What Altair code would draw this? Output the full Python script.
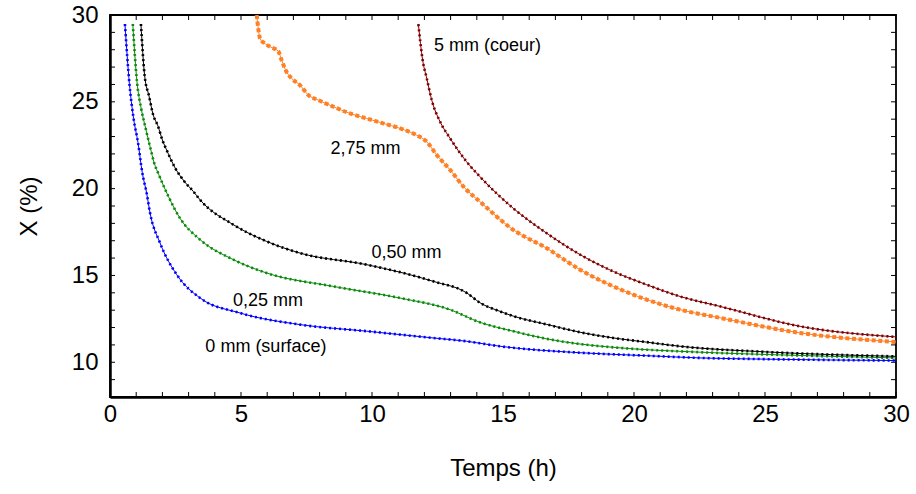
import altair as alt
import pandas as pd

# ---- data (t in hours, X in %) ----
t_0 = [0.57, 0.74, 0.90, 1.07, 1.23, 1.40, 1.53, 1.91, 2.55, 3.44, 4.96, 7.25, 9.80,
       12.34, 13.61, 14.89, 17.94, 20.48, 22.52, 25.0, 30.0]
x_0 = [29.48, 26.06, 24.04, 22.64, 20.94, 19.73, 18.59, 16.87, 15.04, 13.70, 12.84, 12.17, 11.79,
       11.40, 11.21, 10.92, 10.55, 10.38, 10.25, 10.18, 10.10]

t_025 = [0.87, 1.03, 1.19, 1.36, 1.53, 1.69, 1.87, 2.23, 2.67, 3.44, 4.71, 5.98, 8.52, 11.07,
         12.98, 14.12, 15.39, 16.67, 17.94, 19.21, 22.52, 25.0, 30.0]
x_025 = [29.48, 26.15, 24.62, 23.47, 22.41, 21.46, 20.78, 19.55, 18.30, 17.06, 15.91, 15.14, 14.37, 13.70,
         13.03, 12.30, 11.79, 11.35, 11.05, 10.86, 10.58, 10.45, 10.25]

t_050 = [1.18, 1.32, 1.49, 1.65, 1.83, 2.00, 2.16, 2.49, 2.84, 3.18, 3.44, 4.71, 5.98, 7.25, 9.80,
         12.34, 13.61, 14.12, 14.89, 15.39, 16.67, 17.94, 19.21, 20.48, 21.76, 25.0, 30.0]
x_050 = [29.48, 26.53, 25.33, 24.24, 23.61, 22.80, 22.23, 21.18, 20.41, 19.84, 19.35, 17.92, 16.96, 16.29, 15.62,
         14.66, 14.00, 13.43, 12.93, 12.66, 12.18, 11.73, 11.40, 11.16, 10.92, 10.60, 10.34]

t_275 = [5.60, 5.73, 5.92, 6.11, 6.42, 6.55, 6.74, 6.93, 7.25, 7.57, 7.95, 8.52, 9.16, 9.80, 10.43,
         11.07, 11.70, 12.09, 12.47, 12.98, 13.55, 14.12, 15.39, 16.67, 17.94, 19.21, 20.48, 21.76,
         23.28, 26.34, 30.0]
x_275 = [30.00, 28.64, 28.35, 28.17, 27.92, 27.40, 26.72, 26.35, 25.96, 25.39, 25.10, 24.72, 24.33, 24.04, 23.76,
         23.47, 23.08, 22.70, 21.94, 21.08, 20.02, 19.25, 17.63, 16.57, 15.33, 14.37, 13.61, 13.03,
         12.56, 11.69, 11.17]

t_5 = [11.77, 11.93, 12.09, 12.28, 12.60, 12.98, 13.61, 14.12, 15.39, 16.67, 17.94, 19.21, 20.48,
       21.76, 23.28, 26.34, 30.0]
x_5 = [29.47, 27.43, 26.35, 25.10, 23.85, 22.90, 21.55, 20.69, 18.87, 17.43, 16.20, 15.23, 14.47,
       13.79, 13.22, 12.07, 11.46]

series_t = [t_0, t_025, t_050, t_275, t_5]
series_x = [x_0, x_025, x_050, x_275, x_5]
series_colors = ["#0000ff", "#0a8a0a", "#000000", "#ff7f24", "#800000"]

label_text = ["0 mm (surface)", "0,25 mm", "0,50 mm", "2,75 mm", "5 mm (coeur)"]
label_t = [5.95, 6.03, 11.32, 9.75, 14.41]
label_x = [10.89, 13.53, 16.29, 22.28, 28.21]

x_ticks = list(range(0, 31))
y_ticks = list(range(8, 31))

FONT = "Liberation Sans"
W, H = 786, 382
TICK = 5

x_axis = alt.Axis(
    values=x_ticks, labelExpr="datum.value % 5 === 0 ? datum.label : ''",
    ticks=False, tickSize=0, grid=False, domain=True, domainColor="black", domainWidth=2.5,
    labelFont=FONT, labelFontSize=24, labelColor="black", labelPadding=5,
    labelOverlap=False, labelFlush=False,
    title="Temps (h)", titleFont=FONT, titleFontSize=24, titleFontWeight="normal",
    titleColor="black", titlePadding=30,
)
y_axis = alt.Axis(
    values=y_ticks, labelExpr="datum.value % 5 === 0 ? datum.label : ''",
    ticks=False, tickSize=0, grid=False, domain=True, domainColor="black", domainWidth=2.5,
    labelFont=FONT, labelFontSize=24, labelColor="black", labelPadding=12,
    labelOverlap=False, labelFlush=False,
    title="X (%)", titleFont=FONT, titleFontSize=24, titleFontWeight="normal",
    titleColor="black", titlePadding=30,
)

xs = alt.Scale(domain=[0, 30], nice=False, zero=False)
ys = alt.Scale(domain=[8, 30], nice=False, zero=False)
X = alt.X("t:Q", scale=xs, axis=x_axis)
Y = alt.Y("v:Q", scale=ys, axis=y_axis)

layers = []

# inward tick marks on all four sides, placed by the scales
xt = alt.Chart(pd.DataFrame({"t": x_ticks}))
yt = alt.Chart(pd.DataFrame({"v": y_ticks}))
layers.append(xt.mark_rule(color="black", strokeWidth=1).encode(
    x=X, y=alt.value(H - TICK), y2=alt.value(H)))
layers.append(xt.mark_rule(color="black", strokeWidth=1).encode(
    x=X, y=alt.value(0), y2=alt.value(TICK)))
layers.append(yt.mark_rule(color="black", strokeWidth=1).encode(
    y=Y, x=alt.value(0), x2=alt.value(TICK)))
layers.append(yt.mark_rule(color="black", strokeWidth=1).encode(
    y=Y, x=alt.value(W - TICK), x2=alt.value(W)))

for ts, vs, col in zip(series_t, series_x, series_colors):
    df = pd.DataFrame({"t": ts, "v": vs})
    base = alt.Chart(df).encode(x=X, y=Y)
    layers.append(base.mark_line(color=col, strokeWidth=1, interpolate="monotone", clip=True))
    if col == "#ff7f24":
        layers.append(base.mark_line(color=col, strokeWidth=4, strokeDash=[4, 2.6],
                                     strokeCap="butt", interpolate="monotone", clip=True))
    else:
        layers.append(base.mark_line(color=col, strokeWidth=2.6, strokeDash=[2, 3],
                                     strokeCap="butt", interpolate="monotone", clip=True))

lab_df = pd.DataFrame({"t": label_t, "v": label_x, "label": label_text})
layers.append(
    alt.Chart(lab_df).mark_text(font=FONT, fontSize=18, color="black", baseline="middle", align="center")
    .encode(x=X, y=Y, text="label:N")
)

chart = (
    alt.layer(*layers)
    .properties(width=W, height=H, autosize="none",
                padding={"left": 110, "top": 15, "right": 20, "bottom": 97})
    .configure_view(stroke="black", strokeWidth=1.8)
)

chart.save("out.html", embed_options={"renderer": "svg", "actions": False})
